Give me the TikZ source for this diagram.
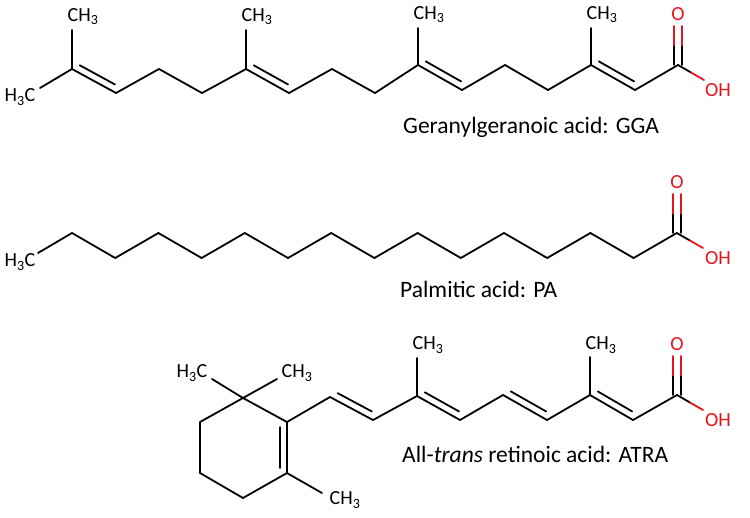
\documentclass[tikz,border=0pt]{standalone}
\usepackage{fontspec}
\setmainfont{Carlito}
\usetikzlibrary{calc}
\definecolor{ored}{RGB}{230,20,30}
\tikzset{bond/.style={line width=1.8pt,line cap=round,line join=round},
  atom/.style={inner sep=0pt,font=\fontsize{20}{20}\selectfont},
  oatom/.style={atom,text=ored},
  captxt/.style={inner sep=0pt,anchor=base west,font=\fontsize{23.5}{23.5}\selectfont}}
\newcommand\dblbond[3]{\draw[bond,shorten <=5pt,shorten >=5pt] ($(#1)!7pt!#3:(#2)$) -- ($(#2)!7pt!-#3:(#1)$);}
\newcommand\acidgrp[4]{% carbon, O top y, OH end, name prefix
  \coordinate (#4ca) at ($(#1)+(-4,0)$); \coordinate (#4cb) at ($(#1)+(4,0)$);
  \coordinate (#4oa) at ($(#4ca|-0,#2)$); \coordinate (#4ob) at ($(#4cb|-0,#2)$);
  \draw[bond] (#4ca) -- ($(#4ca)!0.5!(#4oa)$); \draw[bond,ored] ($(#4ca)!0.5!(#4oa)$) -- (#4oa);
  \draw[bond] (#4cb) -- ($(#4cb)!0.5!(#4ob)$); \draw[bond,ored] ($(#4cb)!0.5!(#4ob)$) -- (#4ob);
  \draw[bond] (#1) -- ($(#1)!0.5!(#3)$); \draw[bond,ored] ($(#1)!0.5!(#3)$) -- (#3);}
\begin{document}
\begin{tikzpicture}[x=1pt,y=-1pt]
\useasboundingbox[fill=white] (0,0) rectangle (750,517);
% ---------- GGA
\foreach \i/\x/\y in {1/72/69,2/116/93,3/159/69,4/202/93,5/246/69,6/289/93,7/332/69,8/375/93,9/418/65,10/462/90,11/505/65,12/548/90,13/591/65,14/635/90,15/678/65}
  \coordinate (g\i) at (\x,\y);
\coordinate (gme) at (40,88);
\coordinate (gm1) at (72,30); \coordinate (gm5) at (246,30); \coordinate (gm9) at (418,28); \coordinate (gm13) at (591,28);
\coordinate (goh) at (704,80);
\draw[bond] (gme) -- (g1) -- (g2) -- (g3) -- (g4) -- (g5) -- (g6) -- (g7) -- (g8) -- (g9) -- (g10) -- (g11) -- (g12) -- (g13) -- (g14) -- (g15);
\foreach \i in {1,5,9,13} \draw[bond] (g\i) -- (gm\i);
\dblbond{g1}{g2}{90} \dblbond{g5}{g6}{90} \dblbond{g9}{g10}{90} \dblbond{g13}{g14}{90}
\acidgrp{g15}{26}{goh}{ga}
\node[atom] (gl0) at (20,97) {H\textsubscript{3}C};
\node[atom] (gl1) at (83,17) {CH\textsubscript{3}};
\node[atom] (gl5) at (257,17) {CH\textsubscript{3}};
\node[atom] (gl9) at (429,15) {CH\textsubscript{3}};
\node[atom] (gl13) at (602,15) {CH\textsubscript{3}};
\node[oatom] (glo) at (678,14) {O};
\node[oatom] (gloh) at (718,90) {OH};
\node[captxt] (gcap) at (403,133) {Geranylgeranoic acid: GGA};
% ---------- PA
\coordinate (pme) at (38,253);
\foreach \k in {1,...,15}{
  \pgfmathsetmacro\px{72+43.2*(\k-1)}
  \pgfmathsetmacro\py{isodd(\k)?233:258}
  \coordinate (p\k) at (\px,\py);}
\draw[bond] (pme) -- (p1) -- (p2) -- (p3) -- (p4) -- (p5) -- (p6) -- (p7) -- (p8) -- (p9) -- (p10) -- (p11) -- (p12) -- (p13) -- (p14) -- (p15);
\coordinate (poh) at (703,248);
\acidgrp{p15}{194}{poh}{pa}
\node[atom] (pl0) at (20,262) {H\textsubscript{3}C};
\node[oatom] (plo) at (677,182) {O};
\node[oatom] (ploh) at (718,258) {OH};
\node[captxt] (pcap) at (400,297) {Palmitic acid: PA};
% ---------- ATRA
\coordinate (r1) at (243,398); \coordinate (r2) at (287,422); \coordinate (r3) at (287,473);
\coordinate (r4) at (243,498); \coordinate (r5) at (200,473); \coordinate (r6) at (200,422);
\draw[bond] (r1) -- (r2) -- (r3) -- (r4) -- (r5) -- (r6) -- cycle;
\dblbond{r2}{r3}{-90}
\coordinate (rm1a) at (212,379); \coordinate (rm1b) at (277,379); \coordinate (rm3) at (322,493);
\draw[bond] (r1) -- (rm1a); \draw[bond] (r1) -- (rm1b); \draw[bond] (r3) -- (rm3);
\foreach \i/\x/\y in {1/330/397,2/373/420,3/417/396,4/460/420,5/503/395,6/547/420,7/590/395,8/633/420,9/677/395}
  \coordinate (a\i) at (\x,\y);
\coordinate (am3) at (417,358); \coordinate (am7) at (590,357); \coordinate (aoh) at (703,410);
\draw[bond] (r2) -- (a1) -- (a2) -- (a3) -- (a4) -- (a5) -- (a6) -- (a7) -- (a8) -- (a9);
\draw[bond] (a3) -- (am3); \draw[bond] (a7) -- (am7);
\dblbond{a1}{a2}{90} \dblbond{a3}{a4}{90} \dblbond{a5}{a6}{90} \dblbond{a7}{a8}{90}
\acidgrp{a9}{356}{aoh}{aa}
\node[atom] (al1) at (192,373) {H\textsubscript{3}C};
\node[atom] (al2) at (297,373) {CH\textsubscript{3}};
\node[atom] (al3) at (345,500) {CH\textsubscript{3}};
\node[atom] (al4) at (428,345) {CH\textsubscript{3}};
\node[atom] (al5) at (601,345) {CH\textsubscript{3}};
\node[oatom] (alo) at (677,344) {O};
\node[oatom] (aloh) at (718,420) {OH};
\node[captxt] (acap) at (402,462) {All-\textit{trans} retinoic acid: ATRA};
\end{tikzpicture}
\end{document}
